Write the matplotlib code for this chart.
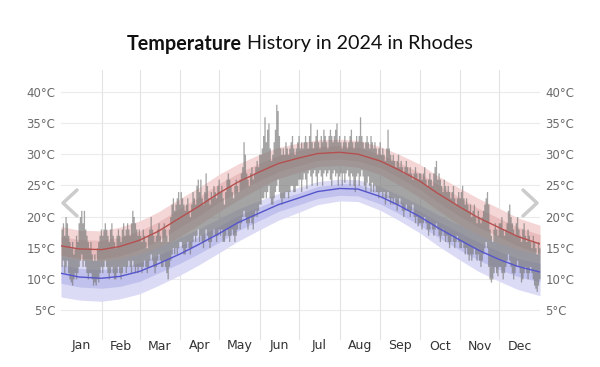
import numpy as np
import pandas as pd
import matplotlib
matplotlib.use("Agg")
import matplotlib.pyplot as plt
import matplotlib.dates as mdates
from matplotlib.lines import Line2D

# ---------------- data ----------------
months = ["Jan", "Feb", "Mar", "Apr", "May", "Jun", "Jul", "Aug", "Sep", "Oct", "Nov", "Dec"]
y_ticks = [5, 10, 15, 20, 25, 30, 35, 40]
y_tick_labels = ["5°C", "10°C", "15°C", "20°C", "25°C", "30°C", "35°C", "40°C"]

high_jan = [18, 19, 17, 20, 19, 17, 16, 15, 16, 14, 15, 17, 16, 19, 20, 21, 19, 21, 18, 17, 16, 15, 16, 14, 13, 14, 13, 15, 16, 17, 18]
low_jan = [12, 13, 11, 12, 13, 11, 10, 9.5, 9, 10, 11, 10, 11, 12, 13, 14, 12, 13, 12, 11, 10, 11, 11, 10, 9, 9.5, 9, 10, 9.5, 11, 12]
high_feb = [17, 18, 19, 18, 17, 16, 18, 19, 17, 16, 15, 17, 18, 17, 16, 18, 19, 17, 18, 19, 18, 17, 19, 21, 20, 19, 18, 17, 18]
low_feb = [11, 12, 13, 12, 11, 10, 11, 12, 11, 10, 10, 11, 12, 11, 10, 11, 12, 12, 11, 12, 13, 12, 11, 13, 12, 11, 12, 11, 12]
high_mar = [17, 16, 18, 17, 16, 15, 17, 18, 20, 18, 17, 16, 17, 18, 19, 17, 16, 18, 19, 18, 17, 16, 18, 20, 22, 23, 21, 22, 23, 24, 22]
low_mar = [12, 11, 12, 13, 12, 11, 12, 13, 14, 13, 12, 11, 12, 13, 14, 13, 12, 12, 13, 12, 11, 10, 12, 13, 14, 15, 14, 15, 14, 15, 16]
high_apr = [24, 23, 22, 21, 22, 23, 21, 20, 22, 24, 23, 22, 25, 26, 24, 26, 23, 22, 24, 27, 25, 23, 22, 24, 23, 25, 24, 23, 25, 26]
low_apr = [16, 15, 14, 14, 15, 16, 15, 14, 15, 16, 17, 16, 17, 18, 16, 17, 16, 15, 16, 18, 17, 16, 15, 16, 17, 18, 17, 16, 17, 18]
high_may = [24, 25, 23, 22, 24, 26, 27, 26, 25, 24, 23, 25, 26, 25, 24, 26, 27, 28, 32, 30, 27, 26, 25, 27, 28, 26, 27, 28, 29, 28, 30]
low_may = [17, 18, 16, 16, 17, 18, 17, 16, 17, 18, 17, 16, 17, 18, 19, 18, 19, 20, 21, 20, 19, 18, 19, 20, 19, 18, 20, 21, 20, 21, 22]
high_jun = [30, 31, 33, 36, 32, 34, 35, 31, 29, 30, 32, 34, 38, 37, 33, 31, 30, 31, 30, 32, 31, 30, 31, 32, 33, 31, 30, 31, 32, 33]
low_jun = [22, 23, 23, 24, 23, 24, 25, 23, 22, 22, 23, 24, 25, 26, 24, 23, 22, 23, 23, 24, 24, 23, 24, 25, 25, 24, 24, 25, 25, 26]
high_jul = [31, 32, 31, 32, 33, 32, 31, 33, 35, 32, 31, 32, 33, 34, 32, 31, 33, 32, 34, 33, 32, 31, 33, 34, 33, 32, 33, 34, 35, 32, 33]
low_jul = [26, 24, 26, 27, 26, 24.5, 27, 27.5, 26.5, 25, 27, 27.5, 26.5, 25, 27, 27.5, 26.5, 25, 27, 27.5, 26.5, 27, 27.5, 26, 25, 27, 27.5, 26.5, 27, 25, 26.5]
high_aug = [32, 31, 32, 33, 32, 31, 32, 33, 34, 32, 31, 32, 33, 32, 33, 36, 33, 32, 31, 32, 33, 32, 31, 33, 32, 31, 32, 31, 30, 31, 32]
low_aug = [27, 25, 27, 25.5, 27, 27.5, 26.5, 25, 27, 26.5, 25, 24, 26.5, 27, 25, 26.5, 27.5, 26.5, 25, 24, 25.5, 26.5, 25, 24, 25.5, 24, 25, 24, 24, 23, 24]
high_sep = [30, 31, 30, 29, 31, 34, 31, 30, 29, 30, 29, 28, 29, 30, 28, 29, 28, 27, 28, 29, 28, 27, 28, 27, 26, 27, 28, 27, 26, 27]
low_sep = [24, 23, 24, 22, 23, 24, 23, 22, 23, 22, 23, 22, 21, 22, 23, 22, 21, 20, 21, 22, 21, 21, 20, 21, 22, 20, 19, 20, 18.5, 19]
high_oct = [27, 26, 27, 28, 26, 25, 26, 27, 26, 25, 27, 28, 29, 26, 27, 26, 25, 24, 26, 25, 24, 25, 24, 23, 24, 25, 23, 22, 23, 24, 23]
low_oct = [19, 18, 19, 20, 19, 18, 17, 18, 19, 18, 17, 18, 19, 18, 17, 16, 17, 18, 17, 16, 17, 16, 15, 16, 17, 16, 15, 16, 17, 16, 15]
high_nov = [24, 25, 23, 22, 23, 22, 21, 22, 20, 21, 22, 20, 19, 21, 20, 19, 20, 21, 22, 23, 24, 22, 18, 17, 16, 18, 19, 18, 17, 19]
low_nov = [15, 16, 15, 14, 15, 14, 13, 14, 13, 14, 15, 14, 13, 14, 13, 12, 13, 14, 15, 16, 15, 12, 10, 9.5, 10, 11, 12, 11, 10.5, 12]
high_dec = [19, 20, 18, 17, 18, 19, 21, 22, 20, 19, 18, 17, 19, 20, 18, 17, 16, 18, 19, 17, 16, 18, 17, 16, 15, 17, 16, 15, 14, 16, 15]
low_dec = [12, 11, 10, 11, 12, 13, 14, 13, 12, 11, 10, 11, 12, 13, 12, 11, 9.5, 10, 11, 12, 11, 10, 11, 12, 11, 10, 9, 8.5, 8, 9, 10]

# climatology anchors (1st and 15th of each month, plus year end)
anchor_dates = ["2024-01-01", "2024-01-15", "2024-02-01", "2024-02-15", "2024-03-01", "2024-03-15",
                "2024-04-01", "2024-04-15", "2024-05-01", "2024-05-15", "2024-06-01", "2024-06-15",
                "2024-07-01", "2024-07-15", "2024-08-01", "2024-08-15", "2024-09-01", "2024-09-15",
                "2024-10-01", "2024-10-15", "2024-11-01", "2024-11-15", "2024-12-01", "2024-12-15",
                "2025-01-01"]
avg_high = [15.3, 14.8, 14.7, 15.2, 16.2, 17.6, 19.8, 21.6, 23.8, 25.5, 27.2, 28.5, 29.4, 30.1, 30.3, 30.0, 28.9, 27.5, 25.7, 23.7, 21.5, 19.8, 18.2, 16.8, 15.6]
p90_high = [18.4, 17.8, 17.7, 18.3, 19.3, 20.7, 22.9, 24.6, 26.8, 28.4, 30.0, 31.1, 31.8, 32.3, 32.4, 32.2, 31.2, 30.0, 28.4, 26.5, 24.5, 22.9, 21.3, 19.8, 18.6]
p75_high = [16.8, 16.3, 16.2, 16.7, 17.7, 19.1, 21.3, 23.1, 25.3, 26.9, 28.6, 29.8, 30.6, 31.2, 31.4, 31.1, 30.0, 28.7, 27.0, 25.1, 23.0, 21.3, 19.7, 18.3, 17.1]
p25_high = [13.8, 13.3, 13.2, 13.7, 14.7, 16.1, 18.3, 20.1, 22.3, 24.0, 25.8, 27.2, 28.2, 29.0, 29.2, 28.9, 27.8, 26.3, 24.4, 22.3, 20.0, 18.3, 16.7, 15.3, 14.1]
p10_high = [12.4, 11.9, 11.8, 12.3, 13.2, 14.6, 16.8, 18.6, 20.8, 22.6, 24.6, 26.1, 27.1, 28.0, 28.2, 27.9, 26.7, 25.1, 23.1, 21.0, 18.6, 16.9, 15.3, 13.9, 12.7]
avg_low = [10.9, 10.3, 10.1, 10.4, 11.2, 12.4, 14.0, 15.5, 17.3, 19.0, 20.6, 21.9, 23.0, 24.0, 24.5, 24.4, 23.2, 21.8, 20.0, 18.2, 16.2, 14.6, 13.1, 12.0, 11.1]
p90_low = [13.7, 13.1, 12.9, 13.2, 14.0, 15.1, 16.6, 18.0, 19.7, 21.2, 22.6, 23.7, 24.7, 25.6, 26.0, 25.9, 24.8, 23.5, 21.9, 20.3, 18.6, 17.1, 15.7, 14.7, 13.9]
p75_low = [12.3, 11.7, 11.5, 11.8, 12.6, 13.8, 15.3, 16.8, 18.5, 20.1, 21.6, 22.8, 23.8, 24.8, 25.3, 25.2, 24.0, 22.6, 20.9, 19.2, 17.4, 15.9, 14.4, 13.3, 12.5]
p25_low = [9.3, 8.7, 8.5, 8.8, 9.6, 10.9, 12.5, 14.0, 15.9, 17.7, 19.4, 20.8, 21.9, 22.9, 23.4, 23.3, 22.0, 20.5, 18.6, 16.7, 14.6, 13.0, 11.5, 10.4, 9.5]
p10_low = [7.1, 6.6, 6.4, 6.8, 7.6, 8.9, 10.6, 12.2, 14.2, 16.0, 17.9, 19.4, 20.7, 21.9, 22.5, 22.4, 21.0, 19.4, 17.4, 15.3, 13.0, 11.2, 9.6, 8.3, 7.3]

daily_high = (high_jan + high_feb + high_mar + high_apr + high_may + high_jun +
              high_jul + high_aug + high_sep + high_oct + high_nov + high_dec)
daily_low = (low_jan + low_feb + low_mar + low_apr + low_may + low_jun +
             low_jul + low_aug + low_sep + low_oct + low_nov + low_dec)

# ---------------- figure ----------------
W, H = 600, 367
fig = plt.figure(figsize=(W / 100, H / 100), dpi=100)
ax_left, ax_right, ax_top, ax_bot = 61, 540, 70, 340
ax = fig.add_axes([ax_left / W, (H - ax_bot) / H, (ax_right - ax_left) / W, (ax_bot - ax_top) / H])

days = pd.date_range("2024-01-01", periods=len(daily_high), freq="D")
anchors = pd.to_datetime(anchor_dates)
xa = mdates.date2num(anchors)
xd = mdates.date2num(days)

# bands
ax.fill_between(xa, p10_high, p90_high, color="#f5d6d6", lw=0, zorder=1)
ax.fill_between(xa, p25_high, p75_high, color="#e8b9b9", lw=0, zorder=1.1, alpha=0.85)
ax.fill_between(xa, p10_low, p90_low, color="#d8d8f5", lw=0, zorder=1.2, alpha=0.9)
ax.fill_between(xa, p25_low, p75_low, color="#bdbdec", lw=0, zorder=1.3, alpha=0.85)

# daily bars (one stepped region, each day a low-to-high column)
hi = np.array(daily_high + [daily_high[-1]], dtype=float)
lo = np.array(daily_low + [daily_low[-1]], dtype=float)
xs_step = np.append(xd, xd[-1] + 1)
ax.fill_between(xs_step, lo, hi, step="post", color="#767676", alpha=0.66, lw=0, zorder=2)

# average lines
ax.plot(xa, avg_high, color="#b5504f", lw=1.0, zorder=3)
ax.plot(xa, avg_low, color="#5555cc", lw=1.0, zorder=3)

# axes styling
x0 = mdates.date2num(pd.Timestamp("2024-01-01"))
x1 = mdates.date2num(pd.Timestamp("2025-01-01"))
ax.set_xlim(x0, x1)
ax.set_ylim(0.2, 43.5)
for s in ax.spines.values():
    s.set_visible(False)
ax.set_xticks([])
ax.set_yticks(y_ticks)
ax.set_yticklabels(y_tick_labels)
ax.tick_params(axis="y", length=0, pad=4, labelsize=8.5, labelcolor="#6a6a6a",
               left=True, right=True, labelleft=True, labelright=True)
for yv in y_ticks:
    ax.axhline(yv, color="#ebebeb", lw=0.8, zorder=0)
month_starts = pd.date_range("2024-02-01", periods=11, freq="MS")
for m in month_starts:
    ax.axvline(mdates.date2num(m), color="#e3e3e3", lw=0.8, zorder=0)

# month labels
mstarts = pd.date_range("2024-01-01", periods=13, freq="MS")
for i, name in enumerate(months):
    mid = (mdates.date2num(mstarts[i]) + mdates.date2num(mstarts[i + 1])) / 2
    ax.text(mid, -6 / 270, name, transform=ax.get_xaxis_transform(), ha="center", va="center",
            fontsize=9, color="#333333")

# title
ty = 1 - 44 / H
tb_ = fig.text(0.5, ty, "Temperature", ha="left", va="center", fontsize=14.2,
               fontweight="bold", color="#111111", family="Lato")
tn_ = fig.text(0.5, ty, " History in 2024 in Rhodes", ha="left", va="center",
               fontsize=14.2, color="#111111", family="Lato")
fig.canvas.draw()
r = fig.canvas.get_renderer()
wb = tb_.get_window_extent(r).width
wn = tn_.get_window_extent(r).width
start = (W - (wb + wn)) / 2
tb_.set_x(start / W)
tn_.set_x((start + wb) / W)

# navigation chevrons
def px(x, y):
    return x / W, 1 - y / H

for pts in ([(77, 190), (63, 203), (77, 216)], [(523, 190), (537, 203), (523, 216)]):
    xs = [px(*p)[0] for p in pts]
    ys = [px(*p)[1] for p in pts]
    fig.add_artist(Line2D(xs, ys, color="#cccccc", lw=2.5, solid_capstyle="round",
                          solid_joinstyle="round"))

fig.savefig("out.png", dpi=100, facecolor="white")
